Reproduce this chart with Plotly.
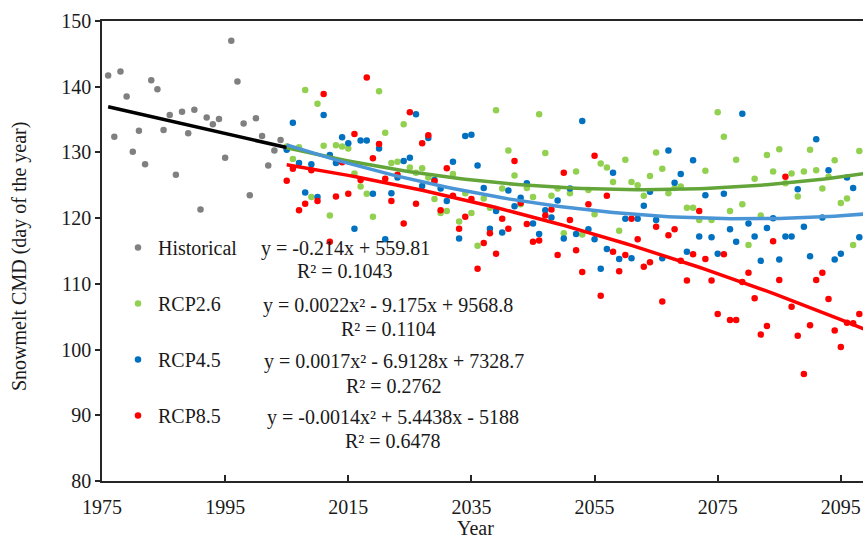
import numpy as np
import plotly.graph_objects as go

# Observed snowmelt CMD (day of the year), 1976-2005
hist_years = list(range(1976, 2006))
hist_cmd = [
    141.7, 132.4, 142.3, 138.5, 130.1, 133.3, 128.2, 141.0, 139.6, 133.4,
    135.7, 126.6, 136.2, 132.9, 136.5, 121.3, 135.3, 134.3, 135.1, 129.2,
    147.0, 140.8, 134.4, 123.5, 135.2, 132.5, 128.0, 130.3, 131.9, 130.6,
]

# Projected snowmelt CMD under three scenarios, 2005-2098
rcp_years = list(range(2005, 2099))
rcp26_cmd = [
    130.9, 129.0, 130.8, 139.5, 123.2,
    137.4, 131.0, 120.4, 131.1, 130.9, 130.6, 126.8, 124.8, 123.7, 120.2,
    139.3, 133.0, 128.4, 128.6, 134.3, 127.7, 126.9, 127.6, 126.2, 122.9,
    120.8, 121.1, 126.7, 119.5, 123.8, 120.8, 115.8, 123.0, 121.6, 136.4,
    124.5, 130.3, 126.5, 122.1, 124.6, 123.2, 135.8, 129.9, 123.4, 124.5,
    117.7, 123.8, 127.1, 117.5, 124.3, 120.6, 128.3, 127.7, 125.5, 118.1,
    128.9, 125.5, 125.0, 123.4, 126.4, 130.0, 127.5, 123.8, 124.6, 124.8,
    121.6, 121.6, 119.7, 127.2, 119.7, 136.1, 132.4, 121.1, 128.9, 122.1,
    115.9, 126.0, 120.4, 129.6, 127.1, 130.5, 125.3, 126.8, 123.3, 127.1,
    130.4, 127.3, 124.5, 126.3, 128.8, 122.3, 123.0, 115.9, 130.2,
]
rcp45_cmd = [
    130.4, 134.5, 128.4, 123.9, 128.2,
    123.2, 135.7, 129.6, 128.4, 132.3, 131.4, 118.4, 131.8, 131.8, 123.7,
    130.6, 116.8, 123.8, 126.2, 128.7, 129.2, 135.8, 124.9, 132.2, 125.8,
    124.5, 122.6, 128.6, 116.9, 132.5, 132.7, 128.0, 124.6, 118.4, 121.1,
    117.8, 124.2, 121.8, 123.1, 125.3, 119.2, 117.6, 121.2, 120.1, 122.7,
    116.9, 124.5, 117.6, 134.8, 118.3, 116.8, 112.3, 115.3, 126.9, 113.8,
    119.9, 113.9, 119.9, 121.9, 124.0, 119.7, 113.9, 130.3, 125.4, 126.7,
    114.9, 128.8, 117.2, 123.5, 117.1, 114.6, 123.7, 118.3, 116.4, 135.9,
    119.2, 117.2, 113.5, 118.5, 120.0, 113.7, 117.2, 117.2, 124.4, 118.7,
    114.2, 132.0, 120.1, 127.3, 113.7, 114.6, 126.2, 124.6, 117.1,
]
rcp85_cmd = [
    125.7, 127.5, 121.2, 122.2, 127.3,
    122.6, 138.9, 116.4, 123.3, 128.5, 123.7, 132.8, 125.8, 141.4, 129.1,
    131.3, 126.0, 122.6, 126.6, 119.2, 136.1, 122.2, 131.4, 132.6, 125.6,
    121.2, 127.6, 123.4, 118.4, 120.2, 122.9, 112.3, 116.2, 117.7, 114.6,
    119.9, 118.4, 128.7, 122.3, 119.1, 116.4, 116.6, 120.4, 121.3, 114.4,
    126.9, 119.7, 115.1, 111.8, 122.1, 129.5, 108.2, 123.4, 114.9, 111.9,
    114.4, 119.9, 116.8, 112.6, 113.3, 118.7, 107.3, 117.4, 118.3, 113.5,
    110.5, 114.5, 121.1, 113.8, 110.5, 105.4, 114.5, 104.5, 104.5, 110.3,
    111.7, 107.8, 102.3, 103.6, 116.5, 110.6, 126.3, 106.5, 102.1, 96.3,
    103.7, 110.6, 111.7, 107.7, 102.9, 100.4, 104.1, 104.0, 105.4,
]

series_names = ["Historical", "RCP2.6", "RCP4.5", "RCP8.5"]

# linear trend of the historical record, as printed on the chart
hist_slope = -0.214
hist_intercept = 559.81

trend_equations = [
    "y = -0.214x + 559.81",
    "y = 0.0022x² - 9.175x + 9568.8",
    "y = 0.0017x² - 6.9128x + 7328.7",
    "y = -0.0014x² + 5.4438x - 5188",
]
trend_r2 = ["R² = 0.1043", "R² = 0.1104", "R² = 0.2762", "R² = 0.6478"]

x_ticks = [1975, 1995, 2015, 2035, 2055, 2075, 2095]
y_ticks = [80, 90, 100, 110, 120, 130, 140, 150]

point_colors = ["#808080", "#92D050", "#0070C0", "#FF0000"]
line_colors = ["#000000", "#64A53A", "#4A95D6", "#FF0000"]
FONT = "Liberation Serif, Times New Roman, serif"


def quad_trend(years, values, x_eval):
    """Least-squares quadratic trend, centred on 2000 for conditioning."""
    x = np.asarray(years, dtype=float) - 2000.0
    coef = np.polyfit(x, np.asarray(values, dtype=float), 2)
    return np.polyval(coef, np.asarray(x_eval, dtype=float) - 2000.0)


fig = go.Figure()

groups = [
    (hist_years, hist_cmd),
    (rcp_years, rcp26_cmd),
    (rcp_years, rcp45_cmd),
    (rcp_years, rcp85_cmd),
]

# scatter points
for i, (yrs, vals) in enumerate(groups):
    fig.add_trace(go.Scatter(
        x=yrs, y=vals, mode="markers", name=series_names[i],
        legendgroup=series_names[i],
        marker=dict(size=6.5, color=point_colors[i], line=dict(width=0)),
        hoverinfo="x+y",
    ))

# trend lines drawn above the points
hx = np.array(hist_years, dtype=float)
fig.add_trace(go.Scatter(
    x=hx, y=hist_slope * hx + hist_intercept, mode="lines",
    line=dict(color=line_colors[0], width=3.5),
    showlegend=False, hoverinfo="skip",
))
for i, (yrs, vals) in enumerate(groups[1:], start=1):
    x_line = np.arange(yrs[0], 2101, dtype=float)
    fig.add_trace(go.Scatter(
        x=x_line, y=quad_trend(yrs, vals, x_line), mode="lines",
        line=dict(color=line_colors[i], width=3.5),
        showlegend=False, hoverinfo="skip",
    ))

L, T, W, H = 102, 21, 761, 460


def px(xp):
    return (xp - L) / W


def py(yp):
    return (T + H - yp) / H


ann = []
eq_pos = [(345, 248.5, 271.0), (388, 305.0, 328.5), (393.5, 361.5, 385.5), (392.5, 417.0, 440.5)]
for (cx, y1, y2), eq, r2 in zip(eq_pos, trend_equations, trend_r2):
    for txt, yy in ((eq, y1), (r2, y2)):
        ann.append(dict(
            x=px(cx), y=py(yy), xref="paper", yref="paper", text=txt,
            showarrow=False, xanchor="center", yanchor="middle",
            font=dict(family=FONT, size=20, color="#1a1a1a"),
        ))

ann.append(dict(
    x=px(19), y=py(257), xref="paper", yref="paper",
    text="Snowmelt CMD (day of the year)", textangle=-90, showarrow=False,
    xanchor="center", yanchor="middle",
    font=dict(family=FONT, size=20, color="#1a1a1a"),
))
ann.append(dict(
    x=px(475), y=py(528), xref="paper", yref="paper", text="Year",
    showarrow=False, xanchor="center", yanchor="middle",
    font=dict(family=FONT, size=20, color="#1a1a1a"),
))

axis_col = "#262626"
fig.update_layout(
    width=863, height=539,
    margin=dict(l=L, r=863 - L - W, t=T, b=539 - T - H, pad=0),
    paper_bgcolor="white", plot_bgcolor="white",
    font=dict(family=FONT, size=20, color="#1a1a1a"),
    annotations=ann,
    legend=dict(
        x=px(118), y=py(228), xanchor="left", yanchor="top",
        bgcolor="rgba(0,0,0,0)", tracegroupgap=27,
        font=dict(family=FONT, size=20, color="#1a1a1a"),
        itemclick=False, itemdoubleclick=False,
    ),
    xaxis=dict(
        range=[1975, 2098.6], tickmode="array", tickvals=x_ticks,
        ticks="inside", ticklen=6, tickwidth=1.5, tickcolor=axis_col,
        showline=True, linewidth=1.6, linecolor=axis_col, mirror=True,
        showgrid=False, zeroline=False, ticklabelstandoff=7,
        tickfont=dict(family=FONT, size=20, color="#1a1a1a"),
    ),
    yaxis=dict(
        range=[80, 150], tickmode="array", tickvals=y_ticks,
        ticks="outside", ticklen=5, tickwidth=1.5, tickcolor=axis_col,
        showline=True, linewidth=1.6, linecolor=axis_col,
        showgrid=False, zeroline=False, ticksuffix="\u00a0\u00a0",
        tickfont=dict(family=FONT, size=20, color="#1a1a1a"),
    ),
)

fig.write_html("out.html")
